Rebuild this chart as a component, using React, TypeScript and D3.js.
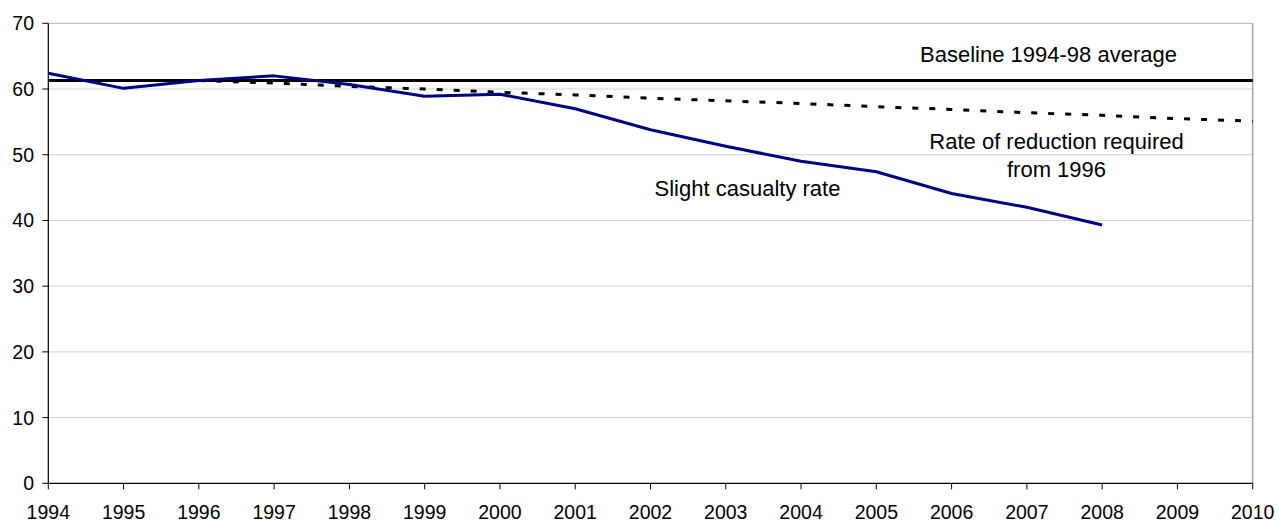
import React from "react";
import * as d3 from "d3";

const years = [1994, 1995, 1996, 1997, 1998, 1999, 2000, 2001, 2002, 2003, 2004, 2005, 2006, 2007, 2008];
const slightRate = [62.4, 60.1, 61.3, 62.0, 60.7, 58.9, 59.2, 57.0, 53.8, 51.3, 49.0, 47.4, 44.1, 42.0, 39.3];

const targetYears = [1996, 1997, 1998, 1999, 2000, 2001, 2002, 2003, 2004, 2005, 2006, 2007, 2008, 2009, 2010];
const targetRate = [61.3, 60.9, 60.4, 60.0, 59.5, 59.1, 58.6, 58.2, 57.8, 57.3, 56.9, 56.4, 56.0, 55.5, 55.1];

const baselineYears = [1994, 2010];
const baselineValue = 61.3;

const xTicks = [1994, 1995, 1996, 1997, 1998, 1999, 2000, 2001, 2002, 2003, 2004, 2005, 2006, 2007, 2008, 2009, 2010];
const yTicks = [0, 10, 20, 30, 40, 50, 60, 70];

const W = 1278;
const H = 522;
const left = 48.3;
const right = 1252.7;
const top = 23.3;
const bottom = 483.3;

export default function App() {
  const x = d3.scaleLinear().domain([1994, 2010]).range([left, right]);
  const y = d3.scaleLinear().domain([0, 70]).range([bottom, top]);
  const line = d3
    .line<[number, number]>()
    .x((d) => x(d[0]))
    .y((d) => y(d[1]));

  const slight = line(years.map((yr, i) => [yr, slightRate[i]] as [number, number])) || "";
  const target = line(targetYears.map((yr, i) => [yr, targetRate[i]] as [number, number])) || "";
  const base = line(baselineYears.map((yr) => [yr, baselineValue] as [number, number])) || "";

  const font = "'Liberation Sans', Arial, sans-serif";

  return (
    <svg
      width={W}
      height={H}
      style={{ position: "absolute", left: 0, top: 0, background: "#fff" }}
      fontFamily={font}
    >
      {/* gridlines */}
      {yTicks
        .filter((t) => t > 0)
        .map((t) => (
          <line
            key={"g" + t}
            x1={left}
            x2={right}
            y1={y(t)}
            y2={y(t)}
            stroke={t === 70 ? "#b4b4b4" : "#d0d0d0"}
            strokeWidth={1}
          />
        ))}
      {/* right border */}
      <line x1={right} x2={right} y1={top} y2={bottom} stroke="#a6a6a6" strokeWidth={1.5} />

      {/* axes */}
      <line x1={left} x2={left} y1={top} y2={bottom} stroke="#000" strokeWidth={1.2} />
      <line x1={left} x2={right} y1={bottom} y2={bottom} stroke="#000" strokeWidth={1.2} />
      {yTicks.map((t) => (
        <g key={"yt" + t}>
          <line x1={left - 6} x2={left} y1={y(t)} y2={y(t)} stroke="#000" strokeWidth={1} />
          <text x={34} y={y(t)} dy="0.36em" textAnchor="end" fontSize={19.5} fill="#000">
            {t}
          </text>
        </g>
      ))}
      {xTicks.map((t) => (
        <g key={"xt" + t}>
          <line x1={x(t)} x2={x(t)} y1={bottom} y2={bottom + 6} stroke="#000" strokeWidth={1} />
          <text x={x(t)} y={518.5} textAnchor="middle" fontSize={19.5} fill="#000">
            {t}
          </text>
        </g>
      ))}

      {/* series */}
      <path d={target} fill="none" stroke="#000" strokeWidth={3} strokeDasharray="6 11" />
      <path d={base} fill="none" stroke="#000" strokeWidth={3} />
      <path d={slight} fill="none" stroke="#000080" strokeWidth={3} strokeLinejoin="round" />

      {/* annotations */}
      <text x={1048.5} y={62} textAnchor="middle" fontSize={22} fill="#000">
        Baseline 1994-98 average
      </text>
      <text x={1056.5} y={149} textAnchor="middle" fontSize={22} fill="#000">
        Rate of reduction required
      </text>
      <text x={1056.5} y={177} textAnchor="middle" fontSize={22} fill="#000">
        from 1996
      </text>
      <text x={747.5} y={196} textAnchor="middle" fontSize={22} fill="#000">
        Slight casualty rate
      </text>
    </svg>
  );
}
